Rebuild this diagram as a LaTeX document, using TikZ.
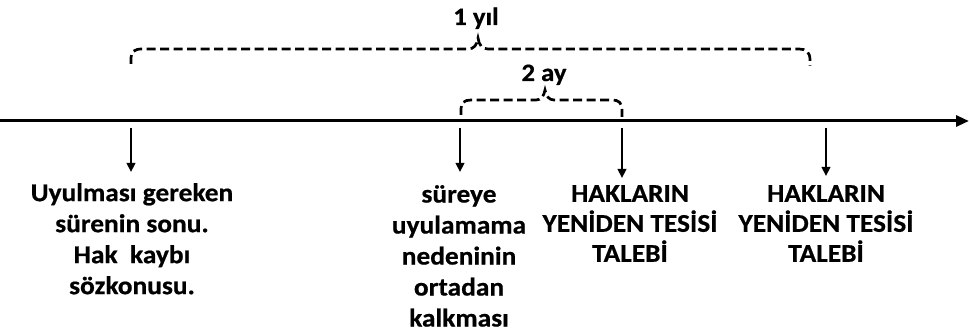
\documentclass[tikz,border=0pt]{standalone}
\usepackage{fontspec}
\setmainfont{Carlito}[FakeStretch=1.07,FakeBold=0.6]
\usetikzlibrary{arrows.meta}
\begin{document}
\begin{tikzpicture}[x=1pt,y=-1pt,
  lbl/.style={font=\fontsize{25.6}{31}\selectfont\bfseries, align=center, inner sep=0pt, anchor=north},
  capslbl/.style={lbl, font=\fontsize{25.6}{30}\selectfont\bfseries},
  toplbl/.style={font=\fontsize{25}{30}\selectfont\bfseries, inner sep=0pt, anchor=base},
  axisline/.style={line width=3pt, -{Triangle[length=13pt,width=11pt]}},
  downarrow/.style={line width=2.3pt, -{Triangle[length=9pt,width=8.5pt]}},
  bracepath/.style={line width=2.7pt, dash pattern=on 9pt off 4.5pt, line cap=butt}]
\useasboundingbox (0,0) rectangle (970,334);
% axis
\coordinate (s) at (0,121);
\coordinate (e) at (969,121);
\draw[axisline] (s) -- (e);
% down arrows
\coordinate (a1s) at (131,128); \coordinate (a1e) at (131,172);
\coordinate (a2s) at (460,128); \coordinate (a2e) at (460,172);
\coordinate (a3s) at (622,128); \coordinate (a3e) at (622,178);
\coordinate (a4s) at (826,128); \coordinate (a4e) at (826,176);
\draw[downarrow] (a1s) -- (a1e);
\draw[downarrow] (a2s) -- (a2e);
\draw[downarrow] (a3s) -- (a3e);
\draw[downarrow] (a4s) -- (a4e);
% texts
\node[lbl] (t1) at (132,183) {Uyulması gereken\\sürenin sonu.\\Hak~~kaybı\\sözkonusu.};
\node[lbl] (t2) at (459,185) {süreye\\uyulamama\\nedeninin\\ortadan\\kalkması};
\node[capslbl] (t3) at (630,185) {HAKLARIN\\YENİDEN TESİSİ\\TALEBİ};
\node[capslbl] (t4) at (826,185) {HAKLARIN\\YENİDEN TESİSİ\\TALEBİ};
% braces
\draw[bracepath] (131,64) -- (131,58) .. controls (131,52) and (134,49) .. (142,49)
  -- (468,49) .. controls (474,49) and (477,45) .. (478,38)
  .. controls (479,45) and (482,49) .. (488,49)
  -- (799,49) .. controls (806,49) and (810,52) .. (810,60) -- (810,66);
\draw[bracepath] (461,115) -- (461,109) .. controls (461,103) and (464,100) .. (471,100)
  -- (536,100) .. controls (541,100) and (544,96) .. (545,90)
  .. controls (546,96) and (549,100) .. (554,100)
  -- (612,100) .. controls (619,100) and (622,103) .. (622,110) -- (622,117);
\node[toplbl] (l1) at (476,25) {1 yıl};
\node[toplbl] (l2) at (544,81) {2 ay};
\end{tikzpicture}
\end{document}
